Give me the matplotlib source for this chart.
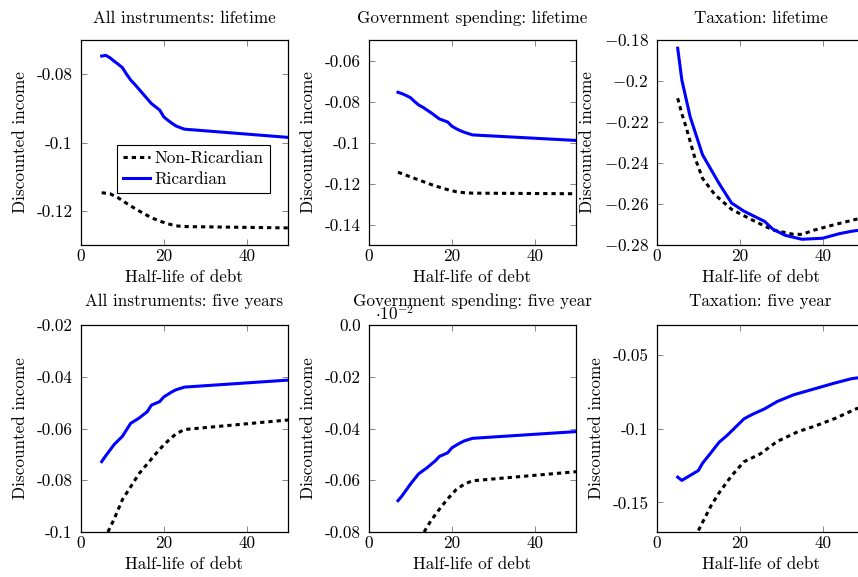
import matplotlib
matplotlib.use("Agg")
import matplotlib.pyplot as plt
from matplotlib.ticker import FixedLocator, FixedFormatter

plt.rcParams['font.family'] = 'cmr10'
plt.rcParams['mathtext.fontset'] = 'cm'
plt.rcParams['axes.unicode_minus'] = False
plt.rcParams['font.size'] = 12.3

# --- data ---
# All instruments: lifetime
all_life_ric_x = [5, 6, 7, 8, 9, 10, 11, 12, 13, 15, 17, 19, 20, 21, 22, 23, 25, 50]
all_life_ric_y = [-0.0747, -0.0745, -0.0752, -0.0762, -0.0771, -0.0781, -0.0800, -0.0817, -0.0830,
                  -0.0858, -0.0886, -0.0905, -0.0925, -0.0935, -0.0944, -0.0952, -0.0961, -0.0985]
all_life_non_x = [5, 7, 9, 11, 13, 15, 17, 19, 21, 23, 25, 50]
all_life_non_y = [-0.1147, -0.1150, -0.1162, -0.1178, -0.1193, -0.1207, -0.1220, -0.1230, -0.1238,
                  -0.1244, -0.1246, -0.1250]

# Government spending: lifetime
gov_life_ric_x = [7, 8, 9, 10, 11, 12, 13, 15, 17, 19, 20, 21, 22, 23, 25, 50]
gov_life_ric_y = [-0.0755, -0.0762, -0.0771, -0.0781, -0.0800, -0.0817, -0.0828, -0.0855, -0.0885,
                  -0.0900, -0.0920, -0.0932, -0.0942, -0.0950, -0.0963, -0.0990]
gov_life_non_x = [7, 9, 11, 13, 15, 17, 19, 21, 23, 25, 50]
gov_life_non_y = [-0.1145, -0.1160, -0.1175, -0.1190, -0.1205, -0.1218, -0.1230, -0.1240, -0.1245,
                  -0.1247, -0.1250]

# Taxation: lifetime
tax_life_ric_x = [5, 6, 8, 11, 15, 18, 21, 24, 26, 28, 31, 35, 40, 44, 47, 50]
tax_life_ric_y = [-0.184, -0.1995, -0.2174, -0.236, -0.250, -0.2595, -0.2635, -0.2665, -0.2685,
                  -0.2723, -0.2753, -0.2772, -0.2767, -0.2745, -0.2733, -0.2725]
tax_life_non_x = [5, 6, 7, 9, 11, 14, 18, 23, 28, 33, 35, 38, 43, 50]
tax_life_non_y = [-0.2084, -0.216, -0.2223, -0.2365, -0.2475, -0.2555, -0.2626, -0.2678, -0.2727,
                  -0.2748, -0.2748, -0.2727, -0.2700, -0.2665]

# All instruments: five years
all_five_ric_x = [5, 6, 8, 10, 11, 12, 14, 16, 17, 19, 20, 21, 22, 23, 25, 50]
all_five_ric_y = [-0.0728, -0.0705, -0.0662, -0.0630, -0.0605, -0.0580, -0.0560, -0.0535, -0.0510,
                  -0.0496, -0.0478, -0.0468, -0.0458, -0.0450, -0.0440, -0.0413]
all_five_non_x = [6.5, 8, 10, 12, 14, 17, 19, 21, 23, 25, 50]
all_five_non_y = [-0.1, -0.0950, -0.0875, -0.0825, -0.0775, -0.0718, -0.0680, -0.0648, -0.0620,
                  -0.0604, -0.0567]

# Government spending: five year
gov_five_ric_x = [7, 8, 10, 12, 14, 16, 17, 19, 20, 21, 22, 23, 25, 50]
gov_five_ric_y = [-0.0679, -0.0660, -0.0615, -0.0575, -0.0552, -0.0525, -0.0508, -0.0494, -0.0475,
                  -0.0465, -0.0456, -0.0448, -0.0438, -0.0412]
gov_five_non_x = [13.3, 15, 17, 19, 21, 23, 25, 50]
gov_five_non_y = [-0.08, -0.0755, -0.0712, -0.0672, -0.0637, -0.0615, -0.0602, -0.0567]

# Taxation: five year
tax_five_ric_x = [5, 6, 10, 11, 13, 15, 17, 19, 21, 23, 26, 29, 33, 38, 43, 47, 50]
tax_five_ric_y = [-0.1329, -0.1351, -0.1284, -0.1235, -0.1165, -0.1093, -0.1045, -0.0990, -0.0935,
                  -0.0905, -0.0867, -0.0818, -0.0772, -0.0732, -0.0692, -0.0663, -0.0652]
tax_five_non_x = [10, 13, 15, 18, 21, 25, 29, 34, 38, 43, 48, 50]
tax_five_non_y = [-0.169, -0.1525, -0.1435, -0.1320, -0.1225, -0.1171, -0.1088, -0.1022, -0.0985,
                  -0.0932, -0.0868, -0.0850]

titles = ["All instruments: lifetime", "Government spending: lifetime", "Taxation: lifetime",
          "All instruments: five years", "Government spending: five year", "Taxation: five year"]

ylims = [(-0.13, -0.07), (-0.15, -0.05), (-0.28, -0.18),
         (-0.10, -0.02), (-0.08, 0.0), (-0.17, -0.03)]
yticks = [[-0.12, -0.10, -0.08],
          [-0.14, -0.12, -0.10, -0.08, -0.06],
          [-0.28, -0.26, -0.24, -0.22, -0.20, -0.18],
          [-0.10, -0.08, -0.06, -0.04, -0.02],
          [-0.08, -0.06, -0.04, -0.02, 0.0],
          [-0.15, -0.10, -0.05]]
ytick_labels = [["-0.12", "-0.1", "-0.08"],
                ["-0.14", "-0.12", "-0.1", "-0.08", "-0.06"],
                ["$-0.28$", "$-0.26$", "$-0.24$", "$-0.22$", "$-0.2$", "$-0.18$"],
                ["-0.1", "-0.08", "-0.06", "-0.04", "-0.02"],
                ["-0.08", "-0.06", "-0.04", "-0.02", "0.0"],
                ["-0.15", "-0.1", "-0.05"]]
xticks = [0, 20, 40]

series = [
    (all_life_non_x, all_life_non_y, all_life_ric_x, all_life_ric_y),
    (gov_life_non_x, gov_life_non_y, gov_life_ric_x, gov_life_ric_y),
    (tax_life_non_x, tax_life_non_y, tax_life_ric_x, tax_life_ric_y),
    (all_five_non_x, all_five_non_y, all_five_ric_x, all_five_ric_y),
    (gov_five_non_x, gov_five_non_y, gov_five_ric_x, gov_five_ric_y),
    (tax_five_non_x, tax_five_non_y, tax_five_ric_x, tax_five_ric_y),
]

fig = plt.figure(figsize=(8.58, 5.77), dpi=100)
W, H = 858, 577
lefts = [81, 369, 657]
tops = [40, 325]
heights = [205, 207]
aw = 207

axes = []
for i in range(6):
    r, c = divmod(i, 3)
    l = lefts[c]
    t = tops[r]
    h = heights[r]
    ax = fig.add_axes([l / W, 1 - (t + h) / H, aw / W, h / H])
    axes.append(ax)

    nx, ny, rx, ry = series[i]
    ax.plot(nx, ny, color='black', lw=2.2, linestyle=(0, (1.4, 1.3)),
            dash_capstyle='butt', label='Non-Ricardian')
    ax.plot(rx, ry, color='blue', lw=2.2, label='Ricardian')

    ax.set_xlim(0, 50)
    ax.set_ylim(*ylims[i])
    ax.xaxis.set_major_locator(FixedLocator(xticks))
    ax.xaxis.set_major_formatter(FixedFormatter([str(v) for v in xticks]))
    ax.yaxis.set_major_locator(FixedLocator(yticks[i]))
    ax.yaxis.set_major_formatter(FixedFormatter(ytick_labels[i]))
    ax.tick_params(direction='in', top=True, right=True, length=4, width=0.6,
                   color='0.45', labelsize=12.3)
    ax.tick_params(axis='y', pad=6)
    ax.tick_params(axis='x', pad=3)
    for s in ax.spines.values():
        s.set_linewidth(0.9)
    ax.set_title(titles[i], fontsize=12.3, pad=12 if r == 0 else 14)
    ax.set_xlabel("Half-life of debt", labelpad=4)
    ax.set_ylabel("Discounted income", labelpad=6)

axes[0].legend(loc='upper left', bbox_to_anchor=(0.174, 0.488), fancybox=False,
               edgecolor='black', framealpha=1, handlelength=1.6, borderpad=0.35,
               labelspacing=0.3, handletextpad=0.25, fontsize=12.3, borderaxespad=0)
axes[0].get_legend().get_frame().set_linewidth(0.8)

axes[4].text(0.03, 1.01, r"$\cdot 10^{-2}$", transform=axes[4].transAxes,
             fontsize=12.3, ha='left', va='bottom')

fig.savefig("out.png", dpi=100)
